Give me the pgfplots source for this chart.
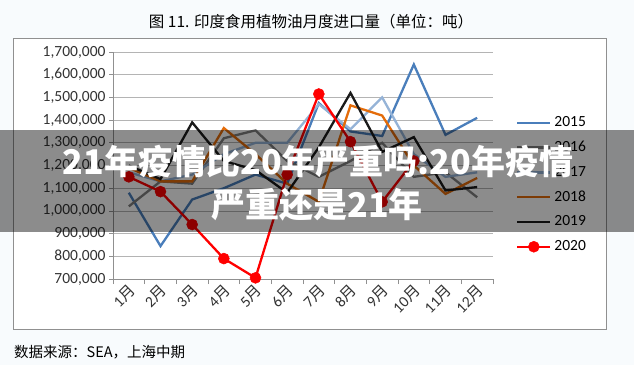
\documentclass[border=0pt]{standalone}
\usepackage{pgfplots}
\pgfplotsset{compat=1.18}
\usepackage{fontspec}
\setmainfont{Carlito}
\newfontfamily\cjk{Noto Sans CJK SC}
\definecolor{c15}{RGB}{74,126,187}
\definecolor{c16}{RGB}{128,128,128}
\definecolor{c17}{RGB}{149,179,215}
\definecolor{c18}{RGB}{228,108,10}
\definecolor{c19}{RGB}{26,26,26}
\definecolor{c20}{RGB}{255,0,0}
\definecolor{gridc}{RGB}{180,180,180}
\definecolor{bgc}{RGB}{248,251,253}
\begin{document}
\begin{tikzpicture}[x=1pt,y=1pt]
\fill[bgc] (0,0) rectangle (634,365);
\fill[white] (13,36) rectangle (606,327);
\draw[gridc!80!black, line width=0.8pt] (13,36) rectangle (606,327);
\node[font=\cjk\fontsize{15.5}{18}\selectfont] at (311,343) {图 11. 印度食用植物油月度进口量（单位：吨）};
\node[font=\cjk\fontsize{14.5}{17}\selectfont, anchor=west, inner sep=0pt] at (14,13) {数据来源：SEA，上海中期};
\begin{axis}[
  scale only axis, width=380pt, height=227pt,
  at={(113pt,86pt)}, anchor=south west,
  xmin=0.5, xmax=12.5, ymin=700000, ymax=1700000,
  axis x line*=bottom, axis y line*=left,
  axis line style={draw=gridc!80!black, line width=0.8pt, -},
  xtick={1,...,12},
  xticklabels={1{\cjk 月},2{\cjk 月},3{\cjk 月},4{\cjk 月},5{\cjk 月},6{\cjk 月},7{\cjk 月},8{\cjk 月},9{\cjk 月},10{\cjk 月},11{\cjk 月},12{\cjk 月}},
  major x tick style={draw=none},
  minor xtick={0.5,1.5,...,12.5},
  minor x tick style={draw=gridc!80!black, line width=0.8pt},
  minor tick length=5pt,
  ytick={700000,800000,...,1700000},
  ymajorgrids, grid style={gridc, line width=0.8pt},
  y tick style={draw=gridc!80!black, line width=0.8pt},
  major tick length=4pt,
  tick align=outside,
  scaled y ticks=false,
  yticklabel style={/pgf/number format/.cd, fixed, 1000 sep={,}, assume math mode=true},
  ticklabel style={font=\fontsize{15.5}{18}\selectfont, text=black!80},
  xticklabel style={rotate=45, anchor=east, inner sep=1pt, yshift=-6pt},
  legend style={at={(1.0605,0.720)}, anchor=north west, draw=none, fill=none, inner sep=0pt,
    row sep=10.8pt, font=\fontsize{15.5}{18}\selectfont,
    nodes={inner sep=0pt, text height=11pt, text depth=3pt}},
  legend cell align=left,
  /tikz/every odd column/.append style={column sep=3pt},
  legend image code/.code={\draw[mark repeat=2,mark phase=2,#1] plot coordinates {(0pt,0pt) (16.5pt,0pt) (33pt,0pt)};},
  every axis plot/.append style={line width=2.3pt, line join=miter},
]
\addplot[c15, mark=none] coordinates {(1,1080000) (2,845000) (3,1050000) (4,1100000) (5,1160000) (6,1120000) (7,1475000) (8,1350000) (9,1330000) (10,1645000) (11,1335000) (12,1410000)};
\addlegendentry{2015}
\addplot[c16, mark=none] coordinates {(1,1020000) (2,1130000) (3,1120000) (4,1320000) (5,1355000) (6,1220000) (7,1150000) (8,1220000) (9,1300000) (10,1150000) (11,1170000) (12,1060000)};
\addlegendentry{2016}
\addplot[c17, mark=none] coordinates {(1,1170000) (2,1130000) (3,1160000) (4,1250000) (5,1300000) (6,1300000) (7,1470000) (8,1360000) (9,1500000) (10,1250000) (11,1150000) (12,1170000)};
\addlegendentry{2017}
\addplot[c18, mark=none] coordinates {(1,1190000) (2,1130000) (3,1130000) (4,1365000) (5,1250000) (6,1120000) (7,1040000) (8,1465000) (9,1420000) (10,1200000) (11,1075000) (12,1145000)};
\addlegendentry{2018}
\addplot[c19, mark=none] coordinates {(1,1200000) (2,1140000) (3,1390000) (4,1220000) (5,1180000) (6,1080000) (7,1280000) (8,1520000) (9,1260000) (10,1325000) (11,1090000) (12,1105000)};
\addlegendentry{2019}
\addplot[c20, mark=*, mark size=5.5pt, mark options={solid, fill=c20, line width=0.5pt}] coordinates {(1,1150000) (2,1085000) (3,940000) (4,790000) (5,705000) (6,1160000) (7,1515000) (8,1305000) (9,1040000) (10,1220000)};
\addlegendentry{2020}
\end{axis}
\fill[black, fill opacity=0.45] (0,133) rectangle (634,235);
\node[text=white, font=\cjk\bfseries\fontsize{34}{40}\selectfont, inner sep=0pt] at (318,203) {21年疫情比20年严重吗:20年疫情};
\node[text=white, font=\cjk\bfseries\fontsize{34}{40}\selectfont, inner sep=0pt] at (317,160) {严重还是21年};
\end{tikzpicture}
\end{document}
